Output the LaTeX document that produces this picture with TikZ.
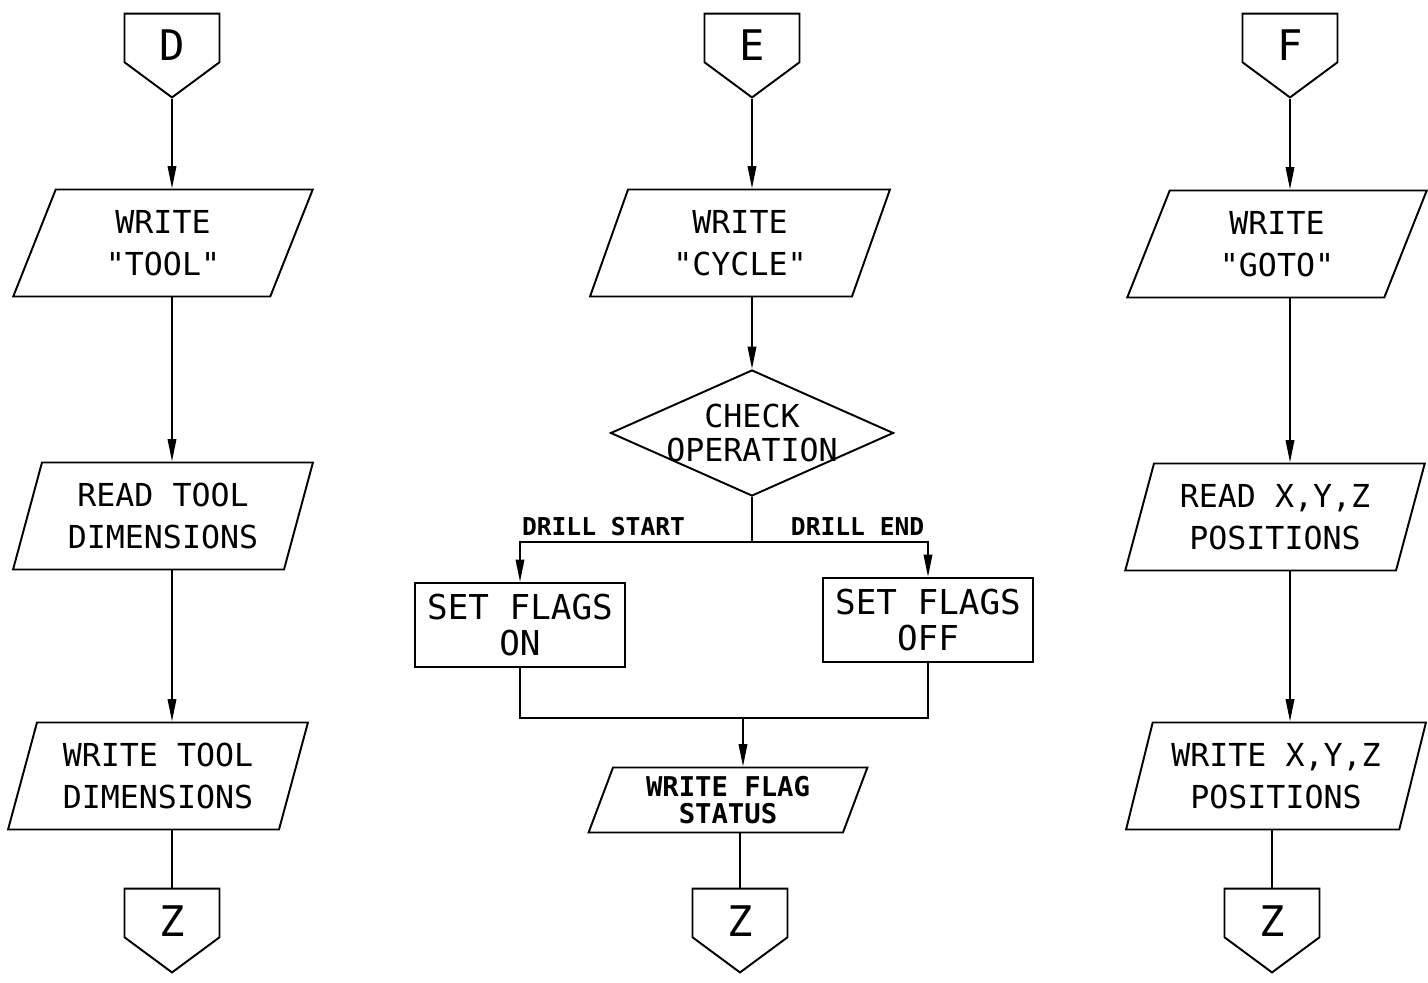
\documentclass[tikz,border=0pt]{standalone}
\usepackage{fontspec}
\setmainfont{DejaVu Sans Mono}
\usetikzlibrary{shapes.geometric, shapes.symbols, arrows.meta, positioning}

\newcommand{\qt}{\textquotedbl}
\newcommand{\conn}[1]{\smash{\raisebox{-0.46cm}{#1}}}

\begin{document}
\begin{tikzpicture}[
    x=0.02cm, y=-0.02cm, line width=1.1pt,
    offpage/.style={draw, shape=signal, signal to=south, signal from=nowhere, signal pointer angle=107, minimum width=1.9cm, minimum height=1.16cm, inner sep=0pt, font=\fontsize{24}{26}\selectfont},
    io/.style={draw, trapezium, trapezium left angle=71, trapezium right angle=109, trapezium stretches, minimum width=6cm, minimum height=2.14cm, inner sep=0pt, align=center, font=\fontsize{18}{24}\selectfont},
    iosmall/.style={io, trapezium left angle=70, trapezium right angle=110, minimum width=5.58cm, minimum height=1.3cm, font=\bfseries\fontsize{15.5}{15.5}\selectfont},
    decision/.style={draw, diamond, aspect=2.25, minimum width=5.66cm, minimum height=2.52cm, inner sep=-2pt, align=center, font=\fontsize{18}{19}\selectfont},
    process/.style={draw, rectangle, minimum width=4.2cm, minimum height=1.68cm, inner sep=0pt, align=center, font=\fontsize{19.5}{21}\selectfont},
    branch/.style={font=\bfseries\fontsize{14}{16}\selectfont, inner sep=3pt},
    arrow/.style={-{Triangle[length=0.45cm, width=0.17cm]}},
]
    \useasboundingbox (0,0) rectangle (1428,983);

    % column D
    \node[offpage] (pD) at (172,38) {\conn{D}};
    \node[io] (wtool) at (163,243) {WRITE\\\qt TOOL\qt};
    \node[io] (rtool) at (163,516) {READ TOOL\\DIMENSIONS};
    \node[io] (wdim) at (158,776) {WRITE TOOL\\DIMENSIONS};
    \node[offpage] (zD) at (172,913) {\conn{Z}};

    \draw[arrow] (pD.south) -- (pD.south |- wtool.north);
    \draw[arrow] (pD.south |- wtool.south) -- (pD.south |- rtool.north);
    \draw[arrow] (pD.south |- rtool.south) -- (pD.south |- wdim.north);
    \draw (zD.north |- wdim.south) -- (zD.north);

    % column E
    \node[offpage] (pE) at (752,38) {\conn{E}};
    \node[io] (wcycle) at (740,243) {WRITE\\\qt CYCLE\qt};
    \node[decision] (check) at (752,433) {CHECK\\OPERATION};
    \node[process] (son) at (520,625) {SET FLAGS\\ON};
    \node[process] (soff) at (928,620) {SET FLAGS\\OFF};
    \node[iosmall] (wflag) at (728,800) {WRITE FLAG\\STATUS};
    \node[offpage] (zE) at (740,913) {\conn{Z}};
    \coordinate (split) at (752,542);
    \coordinate (join) at (743,718);

    \draw[arrow] (pE.south) -- (pE.south |- wcycle.north);
    \draw[arrow] (pE.south |- wcycle.south) -- (check.north);
    \draw (check.south) -- (split);
    \draw[arrow] (split) -| node[branch, pos=0.32, above] {DRILL START} (son.north);
    \draw[arrow] (split) -| node[branch, pos=0.3, above] {DRILL END} (soff.north);
    \draw (son.south) |- (join) -| (soff.south);
    \draw[arrow] (join) -- (join |- wflag.north);
    \draw (zE.north |- wflag.south) -- (zE.north);

    % column F
    \node[offpage] (pF) at (1290,38) {\conn{F}};
    \node[io] (wgoto) at (1277,244) {WRITE\\\qt GOTO\qt};
    \node[io] (rxyz) at (1275,517) {READ X,Y,Z\\POSITIONS};
    \node[io] (wxyz) at (1276,776) {WRITE X,Y,Z\\POSITIONS};
    \node[offpage] (zF) at (1272,913) {\conn{Z}};

    \draw[arrow] (pF.south) -- (pF.south |- wgoto.north);
    \draw[arrow] (pF.south |- wgoto.south) -- (pF.south |- rxyz.north);
    \draw[arrow] (pF.south |- rxyz.south) -- (pF.south |- wxyz.north);
    \draw (zF.north |- wxyz.south) -- (zF.north);
\end{tikzpicture}
\end{document}
